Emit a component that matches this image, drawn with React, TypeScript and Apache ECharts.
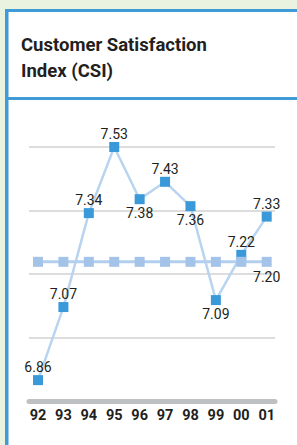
import React, { useEffect, useRef } from "react";
import * as echarts from "echarts";

const years = ["92", "93", "94", "95", "96", "97", "98", "99", "00", "01"];
const csi = [6.86, 7.07, 7.34, 7.53, 7.38, 7.43, 7.36, 7.09, 7.22, 7.33];
const reference = [7.2, 7.2, 7.2, 7.2, 7.2, 7.2, 7.2, 7.2, 7.2, 7.2];
const labelBelow = [4, 6, 7];
const titleLines = ["Customer Satisfaction", "Index (CSI)"];

const FONT = "Roboto, 'Liberation Sans', sans-serif";

export default function App() {
  const ref = useRef<HTMLDivElement>(null);
  useEffect(() => {
    if (!ref.current) return;
    const chart = echarts.init(ref.current, undefined, { renderer: "svg" });
    const blue = "#3f9ad6";
    chart.setOption({
      animation: false,
      backgroundColor: "#e9f3df",
      graphic: [
        { type: "rect", shape: { x: 5, y: 9, width: 300, height: 450 }, style: { fill: "#ffffff" }, z: -10 },
        { type: "rect", shape: { x: 5, y: 9, width: 3.5, height: 450 }, style: { fill: blue }, z: -5 },
        { type: "rect", shape: { x: 5, y: 9, width: 300, height: 3 }, style: { fill: blue }, z: -5 },
        { type: "rect", shape: { x: 5, y: 97, width: 300, height: 3 }, style: { fill: blue }, z: -5 },
        {
          type: "text",
          x: 21,
          y: 32,
          style: {
            text: titleLines.join("\n"),
            fill: "#231f20",
            font: "bold 18.5px Roboto, 'Liberation Sans', sans-serif",
            lineHeight: 26,
          },
        },
      ],
      grid: [
        { left: 29, right: 22, top: 147, bottom: 44 },
        { left: 25.3, right: 17.6, top: 147, bottom: 44 },
      ],
      xAxis: [
        {
          gridIndex: 0,
          type: "value",
          min: 0,
          max: 1,
          axisLine: { show: true, lineStyle: { color: "#bfc0c4", width: 5 } },
          axisTick: { show: false },
          axisLabel: { show: false },
          splitLine: { show: false },
        },
        {
          gridIndex: 1,
          type: "category",
          data: years,
          boundaryGap: true,
          axisLine: { show: false },
          axisTick: { show: false },
          splitLine: { show: false },
          axisLabel: {
            margin: 7,
            color: "#231f20",
            fontWeight: "bold",
            fontSize: 14.5,
            fontFamily: FONT,
          },
        },
      ],
      yAxis: [
        {
          gridIndex: 0,
          type: "value",
          min: 0,
          max: 4,
          interval: 1,
          axisLine: { show: false },
          axisTick: { show: false },
          axisLabel: { show: false },
          splitLine: { show: true, lineStyle: { color: "#d2d2d2", width: 1.5 } },
        },
        {
          gridIndex: 1,
          type: "value",
          min: 6.8,
          max: 7.53,
          show: false,
          splitLine: { show: false },
        },
      ],
      series: [
        {
          type: "line",
          xAxisIndex: 1,
          yAxisIndex: 1,
          data: csi.map((v, i) => ({
            value: v,
            label: labelBelow.includes(i) ? { position: "bottom", distance: 2 } : undefined,
          })),
          symbol: "rect",
          symbolSize: 10,
          itemStyle: { color: "#3a99d8" },
          lineStyle: { color: "#b8d4f0", width: 2.5 },
          label: {
            show: true,
            position: "top",
            distance: 1,
            color: "#231f20",
            fontSize: 14,
            fontFamily: FONT,
            formatter: (p: any) => Number(p.value).toFixed(2),
          },
          z: 3,
        },
        {
          type: "line",
          xAxisIndex: 1,
          yAxisIndex: 1,
          data: reference.map((v, i) => ({
            value: v,
            label: i === reference.length - 1 ? { show: true } : { show: false },
          })),
          symbol: "rect",
          symbolSize: 10,
          itemStyle: { color: "#a3c3e9" },
          lineStyle: { color: "#b3cfee", width: 3 },
          label: {
            show: false,
            position: "bottom",
            distance: 3,
            color: "#231f20",
            fontSize: 14,
            fontFamily: FONT,
            formatter: (p: any) => Number(p.value).toFixed(2),
          },
          z: 4,
        },
      ],
    });
    return () => chart.dispose();
  }, []);
  return (
    <div
      ref={ref}
      style={{ position: "fixed", left: 0, top: 0, width: 297, height: 445 }}
    />
  );
}
